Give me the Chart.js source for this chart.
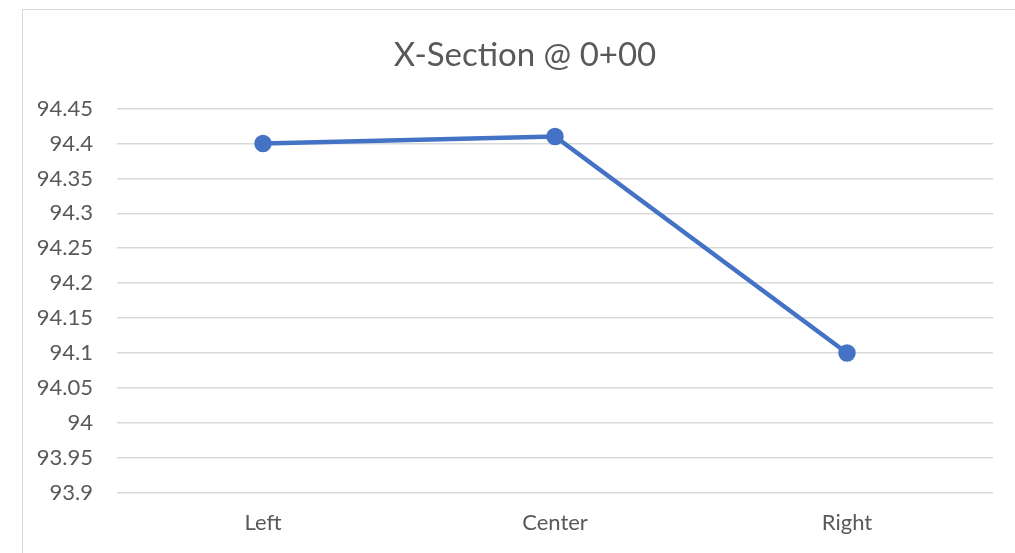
<!DOCTYPE html>
<html>
<head>
<meta charset="utf-8">
<script src="https://cdn.jsdelivr.net/npm/chart.js@4"></script>
<style>
  body { margin: 0; background: #fff; overflow: hidden; }
  #frame { position: absolute; left: 22px; top: 9px; width: 1100px; height: 700px; border: 1px solid #d9d9d9; }
  #wrap { position: absolute; left: 0; top: 0; width: 1015px; height: 553px; }
</style>
</head>
<body>
<div id="frame"></div>
<div id="wrap"><canvas id="graficoSecao"></canvas></div>
<script>
    // Seção transversal @ 0+00
    const categorias = ['Left', 'Center', 'Right'];
    const cotas = [94.4, 94.41, 94.1];
    const tituloTexto = 'X-Section @ 0+00';

    const fonte = 'Lato, "Open Sans", sans-serif';
    const cinza = '#595959';

    // centraliza o título na moldura (e não só na área do canvas)
    const tituloCentrado = {
        id: 'tituloCentrado',
        afterLayout: function(chart) {
            if (chart.titleBlock) {
                chart.titleBlock.left = 57;
            }
        }
    };

    const dataSecao = {
        labels: categorias,
        datasets: [{
            data: cotas,
            borderColor: '#4472C4',
            backgroundColor: '#4472C4',
            borderWidth: 4.5,
            pointRadius: 6.5,
            pointHoverRadius: 6.5,
            tension: 0
        }]
    };

    const configSecao = {
        type: 'line',
        data: dataSecao,
        plugins: [tituloCentrado],
        options: {
            responsive: true,
            maintainAspectRatio: false,
            animation: false,
            layout: {
                padding: { left: 0, right: 22, top: 0, bottom: 0 }
            },
            scales: {
                x: {
                    offset: true,
                    grid: { display: false, drawTicks: false },
                    border: { display: false },
                    ticks: {
                        padding: 17,
                        color: cinza,
                        font: { family: fonte, size: 22 }
                    }
                },
                y: {
                    min: 93.9,
                    max: 94.45,
                    grid: { color: '#d9d9d9', lineWidth: 1.5, drawTicks: false },
                    border: { display: false },
                    afterFit: function(axis) { axis.width = 117; },
                    ticks: {
                        stepSize: 0.05,
                        padding: 24,
                        color: cinza,
                        font: { family: fonte, size: 22 },
                        callback: function(value) {
                            return parseFloat(value.toFixed(2)).toString();
                        }
                    }
                }
            },
            plugins: {
                legend: { display: false },
                tooltip: { enabled: false },
                title: {
                    display: true,
                    text: tituloTexto,
                    color: cinza,
                    font: { family: fonte, size: 33, weight: 'normal' },
                    padding: { top: 36, bottom: 33 }
                }
            }
        }
    };

    const ctxSecao = document.getElementById('graficoSecao').getContext('2d');
    const graficoSecao = new Chart(ctxSecao, configSecao);
</script>
</body>
</html>
